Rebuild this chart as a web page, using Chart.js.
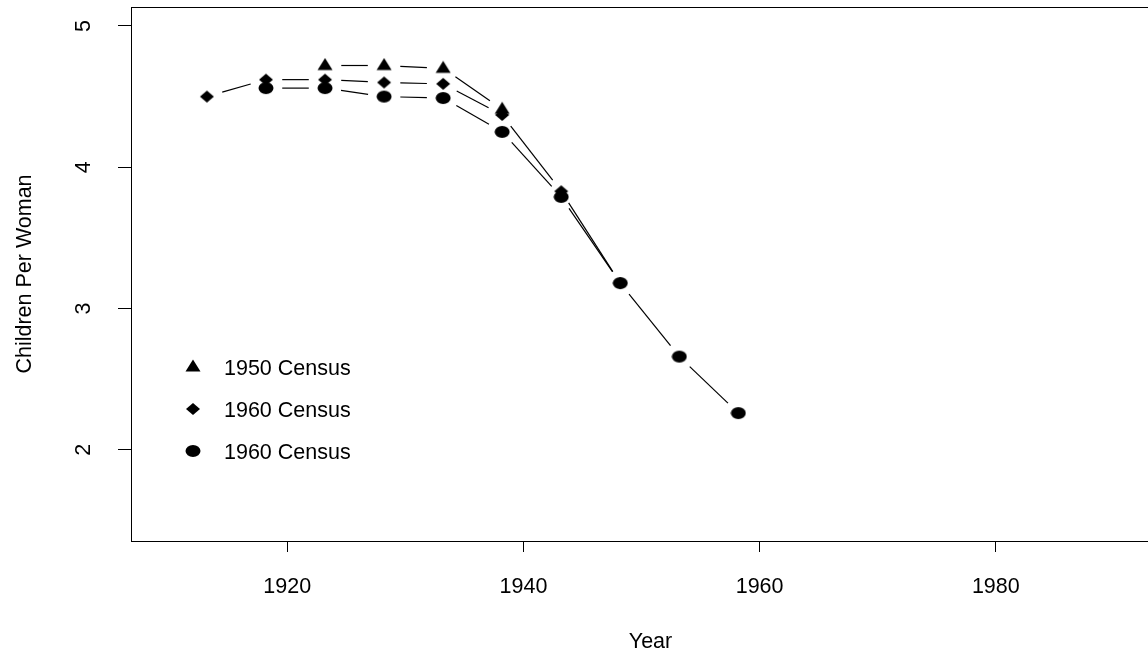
<!DOCTYPE html>
<html>
<head>
<meta charset="utf-8">
<script src="https://cdn.jsdelivr.net/npm/chart.js@4.4.1/dist/chart.umd.min.js"></script>
<style>
  html, body { margin: 0; padding: 0; background: #fff; overflow: hidden; }
  #wrap { width: 1148px; height: 654px; overflow: hidden; }
</style>
</head>
<body>
<div id="wrap"><canvas id="chart" width="1170" height="654"></canvas></div>
<script>
// data
const seriesNames = ['1950 Census', '1960 Census', '1960 Census'];
const markerKinds = ['triangle', 'diamond', 'circle'];

const years1950 = [1923.2, 1928.2, 1933.2, 1938.2];
const tfr1950 = [4.72, 4.72, 4.70, 4.41];

const years1960a = [1913.2, 1918.2, 1923.2, 1928.2, 1933.2, 1938.2, 1943.2, 1948.2];
const tfr1960a = [4.50, 4.62, 4.62, 4.60, 4.59, 4.37, 3.83, 3.18];

const years1960b = [1918.2, 1923.2, 1928.2, 1933.2, 1938.2, 1943.2, 1948.2, 1953.2, 1958.2];
const tfr1960b = [4.56, 4.56, 4.50, 4.49, 4.25, 3.79, 3.18, 2.66, 2.26];

const xTicks = [1920, 1940, 1960, 1980];
const xTickLabels = ['1920', '1940', '1960', '1980'];
const yTicks = [2, 3, 4, 5];
const yTickLabels = ['2', '3', '4', '5'];

const FONT = { family: '"Liberation Sans", Arial, sans-serif', size: 21.5 };

// R device draws symbols a bit wider than tall, so make them as small images
function markerCanvas(kind) {
  const c = document.createElement('canvas');
  c.width = 16; c.height = 16;
  const g = c.getContext('2d');
  g.fillStyle = '#000';
  g.beginPath();
  if (kind === 'circle') {
    g.ellipse(8, 8, 7.5, 6, 0, 0, Math.PI * 2);
  } else if (kind === 'diamond') {
    g.moveTo(8, 2); g.lineTo(15, 8); g.lineTo(8, 14); g.lineTo(1, 8);
  } else {
    // centroid sits at the middle of the image
    g.moveTo(8, 0.5); g.lineTo(15.5, 12.5); g.lineTo(0.5, 12.5);
  }
  g.closePath();
  g.fill();
  return c;
}
const markers = markerKinds.map(markerCanvas);

function toPoints(xs, ys) {
  return xs.map((x, i) => ({ x: x, y: ys[i] }));
}

// lines between points, with a gap round each point (like type = "b")
const gappedLines = {
  id: 'gappedLines',
  beforeDatasetsDraw(chart) {
    const ctx = chart.ctx;
    const gap = 13, stretch = 1.25;
    ctx.save();
    ctx.strokeStyle = '#000';
    ctx.lineWidth = 1.2;
    chart.data.datasets.forEach((ds, i) => {
      const pts = chart.getDatasetMeta(i).data;
      for (let k = 1; k < pts.length; k++) {
        const a = pts[k - 1], b = pts[k];
        const dx = b.x - a.x, dy = b.y - a.y;
        const len = Math.hypot(dx / stretch, dy);
        if (len <= 2 * gap) continue;
        const f = gap / len;
        ctx.beginPath();
        ctx.moveTo(a.x + dx * f, a.y + dy * f);
        ctx.lineTo(b.x - dx * f, b.y - dy * f);
        ctx.stroke();
      }
    });
    ctx.restore();
  }
};

// box round the plot region
const frame = {
  id: 'frame',
  afterDraw(chart) {
    const { left, top, right, bottom } = chart.chartArea;
    const ctx = chart.ctx;
    ctx.save();
    ctx.strokeStyle = '#000';
    ctx.lineWidth = 1;
    ctx.strokeRect(left + 0.5, top + 0.5, right - left, bottom - top);
    ctx.restore();
  }
};

// legend inside the plot, bottom left
const innerLegend = {
  id: 'innerLegend',
  afterDatasetsDraw(chart) {
    const ctx = chart.ctx;
    const area = chart.chartArea;
    const x0 = area.left + 62;
    const y0 = area.top + 360;
    ctx.save();
    ctx.fillStyle = '#000';
    ctx.font = FONT.size + 'px ' + FONT.family;
    ctx.textBaseline = 'middle';
    ctx.textAlign = 'left';
    seriesNames.forEach((name, i) => {
      const y = y0 + i * 42;
      const m = markers[i];
      ctx.drawImage(m, x0 - m.width / 2, y - m.height / 2);
      ctx.fillText(name, x0 + 31, y + 2);
    });
    ctx.restore();
  }
};

const datasets = [
  { label: seriesNames[0], data: toPoints(years1950, tfr1950), pointStyle: markers[0] },
  { label: seriesNames[1], data: toPoints(years1960a, tfr1960a), pointStyle: markers[1] },
  { label: seriesNames[2], data: toPoints(years1960b, tfr1960b), pointStyle: markers[2] }
].map(d => Object.assign(d, {
  showLine: false,
  pointRadius: 7,
  pointHoverRadius: 7,
  backgroundColor: '#000',
  borderColor: '#000'
}));

new Chart(document.getElementById('chart').getContext('2d'), {
  type: 'scatter',
  data: { datasets: datasets },
  options: {
    responsive: false,
    animation: false,
    layout: { autoPadding: false, padding: { top: 7, right: 0, bottom: 0, left: 0 } },
    plugins: { legend: { display: false }, tooltip: { enabled: false } },
    scales: {
      x: {
        type: 'linear',
        min: 1906.77,
        max: 1994.75,
        afterBuildTicks: s => { s.ticks = xTicks.map(v => ({ value: v })); },
        afterFit: s => { s.height = 113; s.paddingLeft = 0; s.paddingRight = 0; },
        grid: { drawOnChartArea: false, color: '#000', tickLength: 11, tickWidth: 1 },
        border: { color: '#000', width: 1 },
        ticks: {
          color: '#000',
          font: FONT,
          padding: 22,
          maxRotation: 0,
          callback: (v, i) => xTickLabels[i]
        },
        title: { display: true, text: 'Year', color: '#000', font: FONT, padding: { top: 0, bottom: -1 } }
      },
      y: {
        min: 1.355,
        max: 5.134,
        afterBuildTicks: s => { s.ticks = yTicks.map(v => ({ value: v })); },
        afterFit: s => { s.width = 131; s.paddingTop = 0; s.paddingBottom = 0; },
        grid: { drawOnChartArea: false, color: '#000', tickLength: 13, tickWidth: 1 },
        border: { color: '#000', width: 1 },
        ticks: {
          color: '#000',
          font: FONT,
          minRotation: 90,
          maxRotation: 90,
          crossAlign: 'center',
          padding: 28,
          callback: (v, i) => yTickLabels[i]
        },
        title: { display: true, text: 'Children Per Woman', color: '#000', font: FONT, padding: { top: 12, bottom: 0 } }
      }
    }
  },
  plugins: [gappedLines, frame, innerLegend]
});
</script>
</body>
</html>
